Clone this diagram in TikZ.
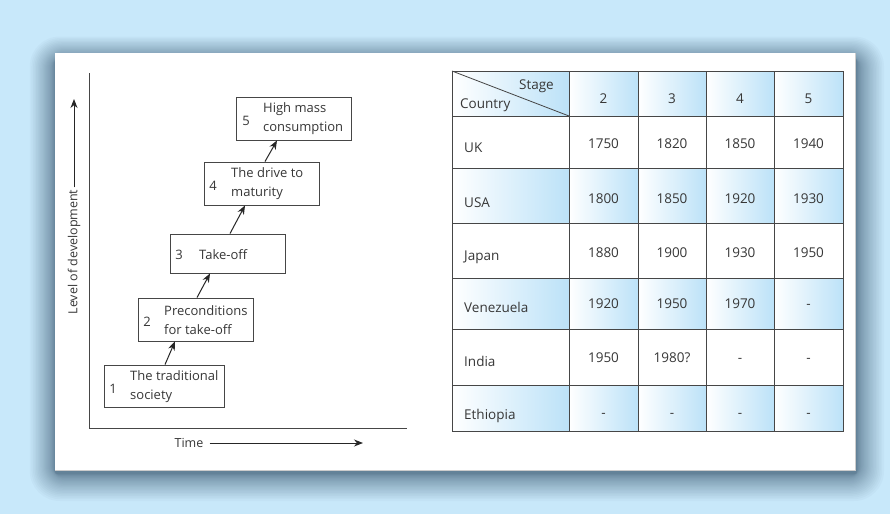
\documentclass[tikz,border=0pt]{standalone}
\usepackage{fontspec}
\setmainfont{Open Sans}
\usetikzlibrary{arrows.meta}
\definecolor{bgblue}{RGB}{200,232,250}
\definecolor{shadowc}{RGB}{60,90,115}
\definecolor{cellblue}{RGB}{188,226,248}
\definecolor{ink}{RGB}{55,55,55}
\definecolor{gridc}{RGB}{70,70,70}
\tikzset{
  stagebox/.style={draw=gridc, line width=0.9pt, fill=white, minimum width=115pt, minimum height=43pt, inner sep=0pt},
  boxtext/.style={anchor=west, align=left, inner sep=0pt, font=\fontsize{13}{19}\selectfont},
  boxnum/.style={inner sep=0pt, font=\fontsize{13}{15}\selectfont},
  arr/.style={draw=black!85, line width=1pt, -{Stealth[length=9pt,width=7pt]}},
  axis/.style={draw=gridc, line width=0.9pt},
  gridline/.style={draw=gridc, line width=0.8pt},
  celltext/.style={anchor=base, inner sep=0pt, font=\fontsize{13.5}{16}\selectfont},
  ctytext/.style={anchor=base west, inner sep=0pt, font=\fontsize{13.5}{16}\selectfont},
}
\begin{document}
\begin{tikzpicture}[x=1pt,y=-1pt,text=ink]
\useasboundingbox (0,0) rectangle (890,514);
\fill[bgblue] (0,0) rectangle (890,514);
% shadow of the panel (soft, falling off quadratically)
\foreach \i in {1,...,30} {
  \fill[shadowc, opacity=0.034, rounded corners=\i pt] ({55-0.028*\i*\i},{59-0.025*\i*\i}) rectangle ({857+0.03*\i*\i},{474+0.03*\i*\i});
}
\fill[white] (55,53) rectangle (855,470);
\draw[black!20, line width=0.6pt] (55,470) -- (855,470) -- (855,53);

% ---------- left chart ----------
\coordinate (ytop) at (89,73);
\coordinate (origin) at (89,428);
\coordinate (xend) at (407,428);
\draw[axis] (ytop) -- (origin) -- (xend);

\node[rotate=90, inner sep=2pt, font=\fontsize{12.5}{14}\selectfont] (ylab) at (74,252) {Level of development};
\coordinate (ytip) at (74,99);
\draw[arr] (ylab.east) -- (ytip);

\node[inner sep=2pt, font=\fontsize{12.5}{14}\selectfont] (tlab) at (189,443) {Time};
\coordinate (ttip) at (363,443);
\draw[arr, shorten <=4pt] (tlab.east) -- (ttip);

\node[stagebox, minimum width=120pt, minimum height=42pt] (b1) at (164,386) {};
\node[stagebox] (b2) at (195.5,319.5) {};
\node[stagebox, minimum height=39pt] (b3) at (227.5,253.5) {};
\node[stagebox] (b4) at (261.5,183.5) {};
\node[stagebox] (b5) at (293.5,118.5) {};

\node[boxnum] (n1) at (113,389) {1};
\node[boxtext] (t1) at (130,387) {The traditional\\society};
\node[boxnum] (n2) at (147,322) {2};
\node[boxtext] (t2) at (164,320) {Preconditions\\for take-off};
\node[boxnum] (n3) at (179,255) {3};
\node[boxtext] (t3) at (199,255) {Take-off};
\node[boxnum] (n4) at (213,186) {4};
\node[boxtext] (t4) at (231,184) {The drive to\\maturity};
\node[boxnum] (n5) at (246,121) {5};
\node[boxtext] (t5) at (263,119) {High mass\\consumption};

\draw[arr] ([xshift=1pt]b1.north) -- ([xshift=-20.5pt]b2.south);
\draw[arr] ([xshift=1.5pt]b2.north) -- ([xshift=-17.5pt]b3.south);
\draw[arr] ([xshift=2.5pt]b3.north) -- ([xshift=-16.5pt]b4.south);
\draw[arr] ([xshift=3.5pt]b4.north) -- ([xshift=-16.5pt]b5.south);

% ---------- table ----------
\foreach \ya/\yb in {71/116,168/223,278/329,385/431} {
  \foreach \xa/\xb in {452/569,569/638,638/706,706/774,774/843} {
    \shade[left color=white, right color=cellblue] (\xa,\ya) rectangle (\xb,\yb);
  }
}
\foreach \x in {569,638,706,774} { \draw[gridline] (\x,71) -- (\x,431); }
\foreach \y in {116,168,223,278,329,385} { \draw[gridline] (452,\y) -- (843,\y); }
\draw[gridline] (452,71) rectangle (843,431);
\draw[gridline] (452,71) -- (569,116);

\node[anchor=base east, inner sep=0pt, font=\fontsize{13.5}{16}\selectfont] (stage) at (554,89.5) {Stage};
\node[ctytext] (country) at (460,108) {Country};
\node[celltext] (h2) at (603.5,103) {2};
\node[celltext] (h3) at (672,103) {3};
\node[celltext] (h4) at (740,103) {4};
\node[celltext] (h5) at (808.5,103) {5};

\foreach \cty/\nb/\cb/\va/\vb/\vc/\vd [count=\r] in {
  UK/148/152/1750/1820/1850/1940,
  USA/203/207/1800/1850/1920/1930,
  Japan/257/260.5/1880/1900/1930/1950,
  Venezuela/308/312/1920/1950/1970/-,
  India/362/366/1950/1980?/-/-,
  Ethiopia/417/419/-/-/-/-} {
  \node[ctytext] (cty\r) at (464,\cb) {\cty};
  \node[celltext] (v\r a) at (603.5,\nb) {\va};
  \node[celltext] (v\r b) at (672,\nb) {\vb};
  \node[celltext] (v\r c) at (740,\nb) {\vc};
  \node[celltext] (v\r d) at (808.5,\nb) {\vd};
}
\end{tikzpicture}
\end{document}
